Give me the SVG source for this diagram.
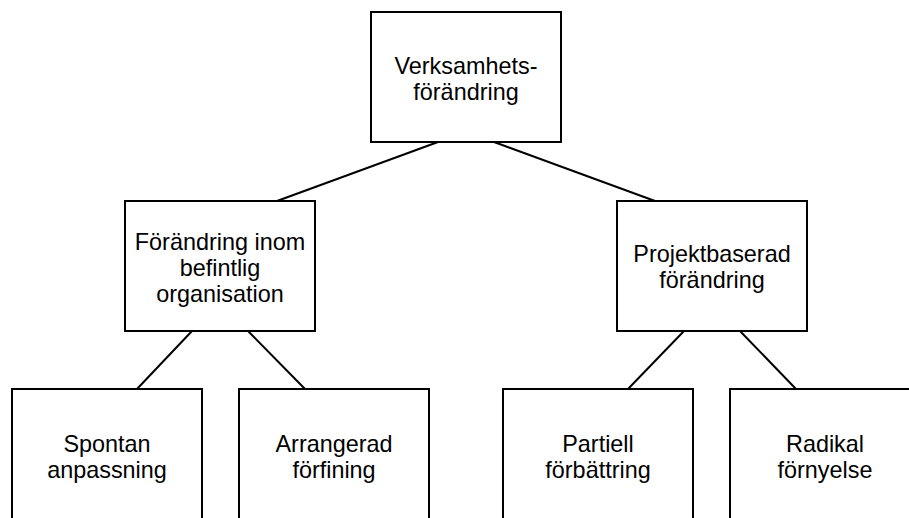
<svg xmlns="http://www.w3.org/2000/svg" width="909" height="518" viewBox="0 0 909 518">
  <style>
    .box { fill: #ffffff; stroke: #000000; stroke-width: 2; }
    .edge { stroke: #000000; stroke-width: 2; fill: none; }
    .label { font-family: "Liberation Sans", Arial, sans-serif; font-size: 23.4px; fill: #000000; text-anchor: middle; }
  </style>
  <rect x="0" y="0" width="909" height="518" fill="#ffffff"/>

  <!-- connectors -->
  <g id="connectors">
    <line class="edge" x1="438" y1="142" x2="277" y2="201"/>
    <line class="edge" x1="494" y1="142" x2="655" y2="201"/>
    <line class="edge" x1="192" y1="331" x2="137" y2="389"/>
    <line class="edge" x1="248" y1="331" x2="305" y2="389"/>
    <line class="edge" x1="684" y1="331" x2="628" y2="389"/>
    <line class="edge" x1="740" y1="331" x2="796" y2="389"/>
  </g>

  <!-- root -->
  <g id="verksamhetsforandring">
    <rect class="box" x="371" y="12" width="190" height="130"/>
    <text class="label" x="466" y="74">Verksamhets-</text>
    <text class="label" x="466" y="100">förändring</text>
  </g>

  <!-- second level -->
  <g id="inom-befintlig">
    <rect class="box" x="125" y="201" width="190" height="130"/>
    <text class="label" x="220" y="250">Förändring inom</text>
    <text class="label" x="220" y="276">befintlig</text>
    <text class="label" x="220" y="302">organisation</text>
  </g>
  <g id="projektbaserad">
    <rect class="box" x="617" y="201" width="190" height="130"/>
    <text class="label" x="712" y="262">Projektbaserad</text>
    <text class="label" x="712" y="288">förändring</text>
  </g>

  <!-- leaves -->
  <g id="spontan">
    <rect class="box" x="12" y="389" width="190" height="130"/>
    <text class="label" x="107" y="452">Spontan</text>
    <text class="label" x="107" y="478">anpassning</text>
  </g>
  <g id="arrangerad">
    <rect class="box" x="239" y="389" width="190" height="130"/>
    <text class="label" x="334" y="452">Arrangerad</text>
    <text class="label" x="334" y="478">förfining</text>
  </g>
  <g id="partiell">
    <rect class="box" x="503" y="389" width="190" height="130"/>
    <text class="label" x="598" y="452">Partiell</text>
    <text class="label" x="598" y="478">förbättring</text>
  </g>
  <g id="radikal">
    <rect class="box" x="730" y="389" width="190" height="130"/>
    <text class="label" x="825" y="452">Radikal</text>
    <text class="label" x="825" y="478">förnyelse</text>
  </g>
</svg>
